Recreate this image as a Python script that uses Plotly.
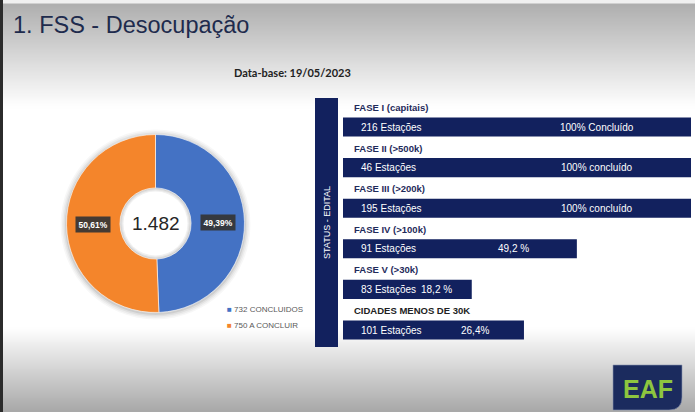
import math
import plotly.graph_objects as go

W, H = 695, 412

# ---------------- data ----------------
donut_labels = ["CONCLUIDOS", "A CONCLUIR"]
donut_values = [732, 750]

phase_names = ["FASE I (capitais)", "FASE II (>500k)", "FASE III (>200k)",
               "FASE IV (>100k)", "FASE V (>30k)", "CIDADES MENOS DE 30K"]
station_counts = [216, 46, 195, 91, 83, 101]
status_labels = ["100% Concluído", "100% concluído", "100% concluído",
                 "49,2 %", "18,2 %", "26,4%"]
bar_lengths = [100, 100, 100, 67.2, 37.0, 52.0]  # drawn bar length, % of a full bar

# ---------------- styles ----------------
donut_colors = ["#4472C4", "#F4852B"]
NAVY = "#12215E"
FONT = "Liberation Sans, Arial, sans-serif"


def px(x):
    return x / W


def py(y):
    return 1 - y / H


shapes = []


def band(y_start, y_end, c_start, c_end, n):
    for i in range(n):
        ya = y_start + (y_end - y_start) * i / n
        yb = y_start + (y_end - y_start) * (i + 1) / n
        t = (i + 0.5) / n
        c = round(c_start + (c_end - c_start) * t)
        lo, hi = min(ya, yb) - 0.6, max(ya, yb) + 0.6
        shapes.append(dict(type="rect", xref="paper", yref="paper", x0=0, x1=1,
                           y0=py(hi), y1=py(lo),
                           fillcolor=f"rgb({c},{c},{c})", line_width=0, layer="below"))


# background gradients
shapes.append(dict(type="rect", xref="paper", yref="paper", x0=0, x1=1, y0=py(4), y1=1,
                   fillcolor="#F0F0F0", line_width=0, layer="below"))
band(4, 108, 174, 255, 52)
band(328, 412, 255, 168, 42)
shapes.append(dict(type="rect", xref="paper", yref="paper", x0=0, x1=px(3), y0=0, y1=1,
                   fillcolor="#2B2B2B", line_width=0, layer="below"))

# donut geometry
CX, CY, R = 155.5, 223.5, 89.0
HOLE = 0.4
RH = R * HOLE

# soft shadow around donut
for extra, alpha in [(6, 0.03), (4.5, 0.04), (3, 0.05), (1.5, 0.08)]:
    shapes.append(dict(type="circle", xref="paper", yref="paper",
                       x0=px(CX - R - extra), x1=px(CX + R + extra),
                       y0=py(CY + R + extra + 1), y1=py(CY - R - extra + 1),
                       fillcolor=f"rgba(0,0,0,{alpha})", line_width=0, layer="below"))
# inner shadow of hole
for shrink, col in [(0, "#D0D0D0"), (1.2, "#E2E2E2"), (2.4, "#F0F0F0"), (3.6, "#FFFFFF")]:
    r = RH - shrink
    shapes.append(dict(type="circle", xref="paper", yref="paper",
                       x0=px(CX - r), x1=px(CX + r), y0=py(CY + r), y1=py(CY - r),
                       fillcolor=col, line_width=0, layer="below"))

# vertical status bar
shapes.append(dict(type="rect", xref="paper", yref="paper", x0=px(315), x1=px(338),
                   y0=py(347), y1=py(98), fillcolor=NAVY, line_width=0, layer="below"))

# logo box with rounded bottom-right corner
lx0, lx1, ly0, ly1, lr = 613, 682, 365, 410, 13
path = (f"M {px(lx0)},{py(ly0)} L {px(lx1)},{py(ly0)} L {px(lx1)},{py(ly1 - lr)} "
        f"Q {px(lx1)},{py(ly1)} {px(lx1 - lr)},{py(ly1)} L {px(lx0)},{py(ly1)} Z")
shapes.append(dict(type="path", xref="paper", yref="paper", path=path,
                   fillcolor="#1B2B5E", line=dict(color="#8A93B0", width=0.6), layer="above"))

fig = go.Figure()

fig.add_trace(go.Pie(
    labels=donut_labels, values=donut_values, hole=HOLE, sort=False,
    direction="clockwise", rotation=0,
    marker=dict(colors=donut_colors, line=dict(color="#FFFFFF", width=0.6)),
    textinfo="none", hoverinfo="skip", showlegend=False,
    domain=dict(x=[px(CX - R), px(CX + R)], y=[py(CY + R), py(CY - R)]),
))

fig.add_trace(go.Bar(
    x=bar_lengths, y=phase_names, orientation="h", width=0.47,
    marker=dict(color=NAVY, line=dict(width=0)),
    hoverinfo="skip", showlegend=False,
))

annotations = []

# title + date
annotations.append(dict(text="1. FSS - Desocupação", x=px(11), y=py(25), xref="paper", yref="paper",
                        xanchor="left", yanchor="middle", showarrow=False,
                        font=dict(family=FONT, size=23.5, color="#1E2B4D")))
annotations.append(dict(text="<b>Data-base: 19/05/2023</b>", x=px(292), y=py(72), xref="paper",
                        yref="paper", xanchor="center", yanchor="middle", showarrow=False,
                        font=dict(family="Lato, sans-serif", size=11, color="#222222")))

# donut centre total
total = sum(donut_values)
annotations.append(dict(text=f"{total:,}".replace(",", "."), x=px(CX), y=py(CY), xref="paper",
                        yref="paper", xanchor="center", yanchor="middle", showarrow=False,
                        font=dict(family=FONT, size=19, color="#262626")))

# percentage labels in the ring
start = 0.0
rmid = (R + RH) / 2
for v in donut_values:
    frac = v / total
    mid = (start + frac / 2) * 2 * math.pi
    start += frac
    lx = CX + rmid * math.sin(mid)
    ly = CY - rmid * math.cos(mid)
    pct = f"{frac * 100:.2f}%".replace(".", ",")
    annotations.append(dict(text=f"<b>{pct}</b>", x=px(lx), y=py(ly), xref="paper", yref="paper",
                            xanchor="center", yanchor="middle", showarrow=False,
                            bgcolor="rgba(52,52,52,0.92)", borderpad=2.5,
                            font=dict(family=FONT, size=8.5, color="#FFFFFF")))

# legend
for i, (lab, v, c) in enumerate(zip(donut_labels, donut_values, donut_colors)):
    annotations.append(dict(text=f"<span style='color:{c}'>■</span> {v} {lab}",
                            x=px(225), y=py(309 + 16.5 * i), xref="paper", yref="paper",
                            xanchor="left", yanchor="middle", showarrow=False,
                            font=dict(family=FONT, size=8, color="#595959")))

# bar labels
for name, n, st, ln in zip(phase_names, station_counts, status_labels, bar_lengths):
    hcol = "#222222" if name.startswith("CIDADES") else "#1F2B5B"
    annotations.append(dict(text=f"<b>{name}</b>", x=0, y=name, xref="x", yref="y",
                            xanchor="left", yanchor="middle", xshift=9, yshift=19.5,
                            showarrow=False, font=dict(family=FONT, size=9.5, color=hcol)))
    annotations.append(dict(text=f"{n} Estações", x=0, y=name, xref="x", yref="y",
                            xanchor="left", yanchor="middle", xshift=16, showarrow=False,
                            font=dict(family=FONT, size=10, color="#FFFFFF")))
    annotations.append(dict(text=st, x=0.73 * ln, y=name, xref="x", yref="y",
                            xanchor="center", yanchor="middle", showarrow=False,
                            font=dict(family=FONT, size=10, color="#FFFFFF")))

annotations.append(dict(text="STATUS - EDITAL", x=px(326.5), y=py(222.5), xref="paper", yref="paper",
                        xanchor="center", yanchor="middle", textangle=-90, showarrow=False,
                        font=dict(family=FONT, size=9, color="#FFFFFF")))

annotations.append(dict(text="<b>EAF</b>", x=px(647.5), y=py(388.5), xref="paper", yref="paper",
                        xanchor="center", yanchor="middle", showarrow=False,
                        font=dict(family=FONT, size=25, color="#8DC63F")))

fig.update_layout(
    width=W, height=H,
    margin=dict(l=0, r=0, t=0, b=0),
    paper_bgcolor="#FFFFFF", plot_bgcolor="rgba(0,0,0,0)",
    showlegend=False,
    xaxis=dict(domain=[px(343), px(691)], range=[0, 100], visible=False, fixedrange=True),
    yaxis=dict(domain=[py(350.3), py(106.7)], type="category",
               categoryorder="array", categoryarray=phase_names,
               range=[len(phase_names) - 0.5, -0.5], visible=False, fixedrange=True),
    shapes=shapes,
    annotations=annotations,
)

fig.write_html(
    "out.html",
    config={"displayModeBar": False},
    post_script="document.body.style.margin='0';document.body.style.padding='0';"
                "document.body.style.overflow='hidden';",
)
